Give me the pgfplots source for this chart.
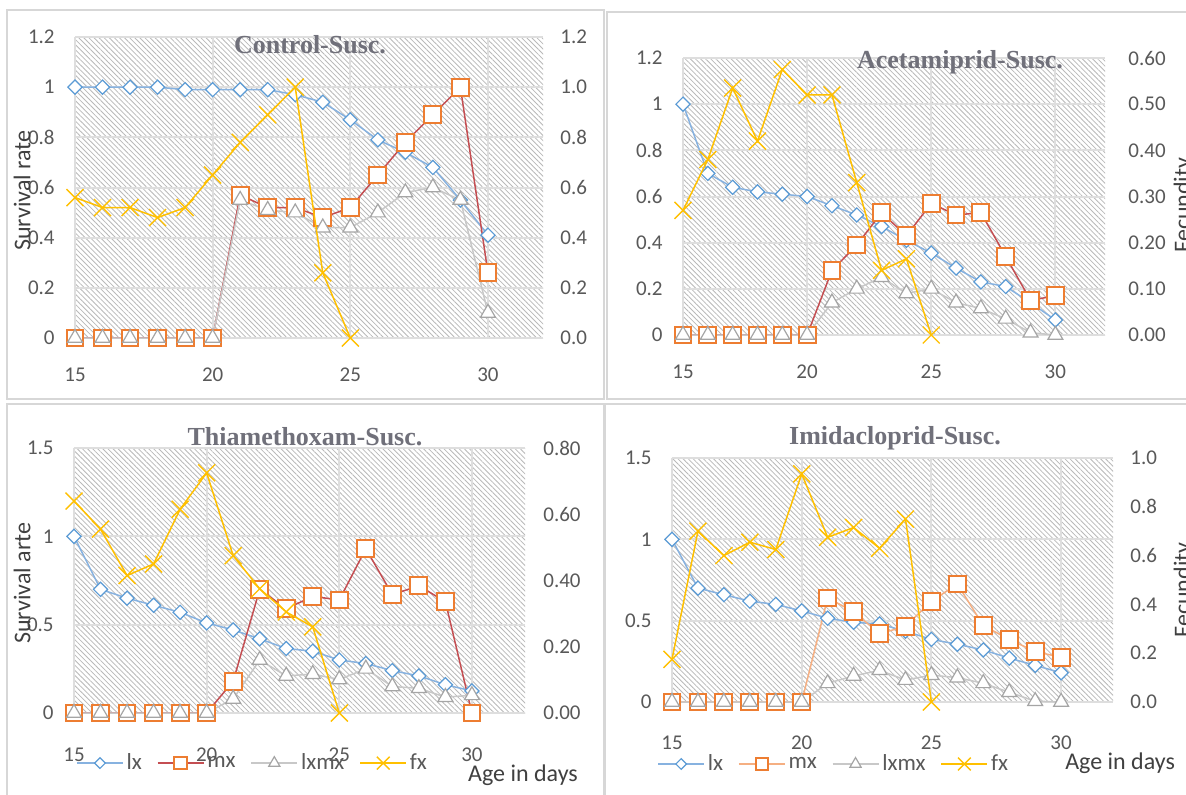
\documentclass[border=0pt]{standalone}
\usepackage{fontspec}
\setmainfont{Carlito}
\newfontfamily\titlefont{Liberation Serif}
\usepackage{pgfplots}
\pgfplotsset{compat=1.18}
\usepackage{pgfplotstable}
\usetikzlibrary{patterns.meta}

\definecolor{lxline}{RGB}{135,178,224}
\definecolor{lxmark}{RGB}{91,155,213}
\definecolor{mxred}{RGB}{196,78,82}
\definecolor{mxorange}{RGB}{245,175,130}
\definecolor{mxmark}{RGB}{237,125,49}
\definecolor{lxmxline}{RGB}{200,200,200}
\definecolor{lxmxmark}{RGB}{165,165,165}
\definecolor{fxc}{RGB}{255,192,0}
\definecolor{hatch}{RGB}{185,185,185}
\definecolor{gridc}{RGB}{222,222,222}
\definecolor{tickc}{RGB}{89,89,89}
\definecolor{legc}{RGB}{64,64,64}
\definecolor{titlec}{RGB}{112,112,122}
\definecolor{bordc}{RGB}{215,215,215}

\pgfplotstableread{
x lx mx lxmx fx
15 1.00 0 0 0.56
16 1.00 0 0 0.52
17 1.00 0 0 0.52
18 1.00 0 0 0.48
19 0.99 0 0 0.52
20 0.99 0 0 0.65
21 0.99 0.57 0.55 0.78
22 0.99 0.52 0.51 0.89
23 0.97 0.52 0.50 1.00
24 0.94 0.48 0.44 0.26
25 0.87 0.52 0.44 0.00
26 0.79 0.65 0.50 nan
27 0.74 0.78 0.58 nan
28 0.68 0.89 0.60 nan
29 0.55 1.00 0.55 nan
30 0.41 0.26 0.10 nan
}\tabA

\pgfplotstableread{
x lx mx lxmx fx
15 1.00 0 0 0.27
16 0.70 0 0 0.38
17 0.64 0 0 0.535
18 0.62 0 0 0.42
19 0.61 0 0 0.575
20 0.60 0 0 0.52
21 0.56 0.28 0.14 0.52
22 0.52 0.39 0.20 0.33
23 0.47 0.53 0.25 0.14
24 0.41 0.43 0.18 0.165
25 0.355 0.57 0.20 0.00
26 0.29 0.52 0.14 nan
27 0.23 0.53 0.115 nan
28 0.21 0.34 0.07 nan
29 0.14 0.15 0.01 nan
30 0.065 0.17 0.00 nan
}\tabB

\pgfplotstableread{
x lx mx lxmx fx
15 1.00 0 0 0.64
16 0.70 0 0 0.555
17 0.65 0 0 0.415
18 0.61 0 0 0.45
19 0.57 0 0 0.615
20 0.51 0 0 0.725
21 0.47 0.18 0.08 0.475
22 0.42 0.70 0.30 0.375
23 0.365 0.59 0.21 0.305
24 0.35 0.66 0.22 0.26
25 0.30 0.64 0.19 0.00
26 0.28 0.93 0.25 nan
27 0.24 0.67 0.15 nan
28 0.21 0.72 0.14 nan
29 0.16 0.63 0.09 nan
30 0.125 0.00 0.10 nan
}\tabC

\pgfplotstableread{
x lx mx lxmx fx
15 1.00 0 0 0.175
16 0.70 0 0 0.70
17 0.66 0 0 0.60
18 0.62 0 0 0.655
19 0.60 0 0 0.625
20 0.56 0 0 0.935
21 0.515 0.64 0.115 0.675
22 0.49 0.555 0.16 0.715
23 0.48 0.42 0.195 0.63
24 0.435 0.465 0.135 0.75
25 0.385 0.62 0.165 0.00
26 0.355 0.725 0.15 nan
27 0.32 0.47 0.115 nan
28 0.27 0.385 0.06 nan
29 0.225 0.31 0.005 nan
30 0.18 0.275 0.00 nan
}\tabD

\pgfplotsset{
  lxs/.style={color=lxline, line width=0.75pt, mark=square*, mark size=2.5pt,
    mark options={rotate=45, fill=white, draw=lxmark, line width=0.6pt, solid}},
  mxs/.style={color=#1, line width=0.75pt, mark=square*, mark size=4.2pt,
    mark options={fill=white, draw=mxmark, line width=1pt, solid}},
  mxs/.default=mxred,
  lxmxs/.style={color=lxmxline, line width=0.75pt, mark=triangle*, mark size=4.3pt,
    mark options={fill=white, draw=lxmxmark, line width=0.6pt, solid}},
  fxs/.style={color=fxc, line width=0.75pt, mark=x, mark size=6pt,
    mark options={draw=fxc, line width=0.7pt, solid}},
  panel/.style={scale only axis, anchor=south west, xmin=15, xmax=32, ymin=0,
    clip=false, axis line style={draw=none}, major tick length=0pt,
    /pgf/number format/assume math mode=true,
    tick label style={font=\fontsize{10.5}{12}\selectfont, text=tickc}},
  leftax/.style={panel,
    axis background/.style={pattern={Lines[angle=-45,distance=1.8pt,line width=0.4pt]}, pattern color=hatch},
    grid=major, grid style={line width=1pt, color=gridc},
    xtick={15,20,25,30}, xtick pos=bottom, ytick pos=left,
    yticklabel style={anchor=east, inner sep=0pt, xshift=-10pt},
    xticklabel style={anchor=center, inner sep=0pt, yshift=-#1},
    ylabel style={font=\fontsize{12}{14}\selectfont, text=legc, anchor=center},
    xlabel style={font=\fontsize{12}{14}\selectfont, text=legc, anchor=center},
    legend style={draw=none, fill=none, inner sep=0pt, font=\fontsize{11.5}{13}\selectfont,
      text=tickc, legend columns=4, nodes={inner sep=1.5pt},
      /tikz/every even column/.append style={column sep=6pt}},
    legend image code/.code={\draw[mark repeat=2,mark phase=2,##1] plot coordinates {(0pt,0pt) (11.5pt,0pt) (23pt,0pt)};},
    legend image post style={every mark/.append style={scale=0.75}},
  },
  rightax/.style={panel, hide x axis, ytick pos=right, yticklabel pos=right,
    yticklabel style={anchor=west, inner sep=0pt, xshift=#1},
    ylabel style={font=\fontsize{12}{14}\selectfont, text=legc, anchor=center},
    /pgf/number format/.cd, fixed, fixed zerofill},
}

\begin{document}
\begin{tikzpicture}
\useasboundingbox (0,0) rectangle (593pt,397pt);
\fill[white] (0,0) rectangle (593pt,397pt);
\clip (0,0) rectangle (593pt,397pt);

\draw[bordc, line width=0.75pt] (3.5pt,197.5pt) rectangle (302pt,392pt);
\draw[bordc, line width=0.75pt] (303.5pt,197.5pt) rectangle (598pt,391pt);
\draw[bordc, line width=0.75pt] (3.5pt,-3pt) rectangle (302pt,195pt);
\draw[bordc, line width=0.75pt] (302.5pt,-3pt) rectangle (598pt,195pt);

% ---------------- Panel 1: Control ----------------
\begin{axis}[leftax=18.5pt, at={(37.5pt,228pt)}, width=234pt, height=150.5pt,
  ymax=1.2, ytick={0,0.2,0.4,0.6,0.8,1,1.2},
  ylabel={Survival rate}, ylabel style={at={(-0.113,0.49)}}]
\addplot[lxs] table[x=x,y=lx]{\tabA};
\addplot[mxs] table[x=x,y=mx]{\tabA};
\addplot[lxmxs] table[x=x,y=lxmx]{\tabA};
\end{axis}
\begin{axis}[rightax=8.5pt, at={(37.5pt,228pt)}, width=234pt, height=150.5pt,
  ymax=1.2, ytick={0,0.2,0.4,0.6,0.8,1,1.2}, yticklabel style={/pgf/number format/precision=1}]
\addplot[fxs] table[x=x,y=fx]{\tabA};
\end{axis}
\node[font=\titlefont\bfseries\fontsize{13}{15}\selectfont, text=titlec] at (155pt,374.5pt) {Control-Susc.};

% ---------------- Panel 2: Acetamiprid ----------------
\begin{axis}[leftax=18.5pt, at={(341.5pt,229.5pt)}, width=211pt, height=138.5pt,
  ymax=1.2, ytick={0,0.2,0.4,0.6,0.8,1,1.2}]
\addplot[lxs] table[x=x,y=lx]{\tabB};
\addplot[mxs] table[x=x,y=mx]{\tabB};
\addplot[lxmxs] table[x=x,y=lxmx]{\tabB};
\end{axis}
\begin{axis}[rightax=11.5pt, at={(341.5pt,229.5pt)}, width=211pt, height=138.5pt,
  ymax=0.6, ytick={0,0.1,0.2,0.3,0.4,0.5,0.6}, yticklabel style={/pgf/number format/precision=2},
  ylabel={Fecundity}, ylabel style={at={(1.187,0.469)}}]
\addplot[fxs] table[x=x,y=fx]{\tabB};
\end{axis}
\node[font=\titlefont\bfseries\fontsize{13}{15}\selectfont, text=titlec] at (480pt,366pt) {Acetamiprid-Susc.};

% ---------------- Panel 3: Thiamethoxam ----------------
\begin{axis}[leftax=21pt, at={(37pt,40.5pt)}, width=225.5pt, height=132.5pt,
  ymax=1.5, ytick={0,0.5,1,1.5},
  ylabel={Survival arte}, ylabel style={at={(-0.115,0.49)}},
  xlabel={Age in days}, xlabel style={at={(0.9956,-0.234)}},
  legend style={at={(0.004,-0.189)}, anchor=west}]
\addplot[lxs] table[x=x,y=lx]{\tabC};
\addlegendentry{lx}
\addplot[mxs] table[x=x,y=mx]{\tabC};
\addlegendentry{mx}
\addplot[lxmxs] table[x=x,y=lxmx]{\tabC};
\addlegendentry{lxmx}
\addlegendimage{fxs}
\addlegendentry{fx}
\end{axis}
\begin{axis}[rightax=9pt, at={(37pt,40.5pt)}, width=225.5pt, height=132.5pt,
  ymax=0.8, ytick={0,0.2,0.4,0.6,0.8}, yticklabel style={/pgf/number format/precision=2}]
\addplot[fxs] table[x=x,y=fx]{\tabC};
\end{axis}
\node[font=\titlefont\bfseries\fontsize{13}{15}\selectfont, text=titlec] at (152.5pt,178.5pt) {Thiamethoxam-Susc.};

% ---------------- Panel 4: Imidacloprid ----------------
\begin{axis}[leftax=20.5pt, at={(336pt,46pt)}, width=220.5pt, height=122pt,
  ymax=1.5, ytick={0,0.5,1,1.5},
  xlabel={Age in days}, xlabel style={at={(1.016,-0.25)}},
  legend style={at={(-0.034,-0.254)}, anchor=west}]
\addplot[lxs] table[x=x,y=lx]{\tabD};
\addlegendentry{lx}
\addplot[mxs=mxorange] table[x=x,y=mx]{\tabD};
\addlegendentry{mx}
\addplot[lxmxs] table[x=x,y=lxmx]{\tabD};
\addlegendentry{lxmx}
\addlegendimage{fxs}
\addlegendentry{fx}
\end{axis}
\begin{axis}[rightax=8.5pt, at={(336pt,46pt)}, width=220.5pt, height=122pt,
  ymax=1.0, ytick={0,0.2,0.4,0.6,0.8,1}, yticklabel style={/pgf/number format/precision=1},
  ylabel={Fecundity}, ylabel style={at={(1.161,0.459)}}]
\addplot[fxs] table[x=x,y=fx]{\tabD};
\end{axis}
\node[font=\titlefont\bfseries\fontsize{13}{15}\selectfont, text=titlec] at (447.5pt,178pt) {Imidacloprid-Susc.};
\end{tikzpicture}
\end{document}
